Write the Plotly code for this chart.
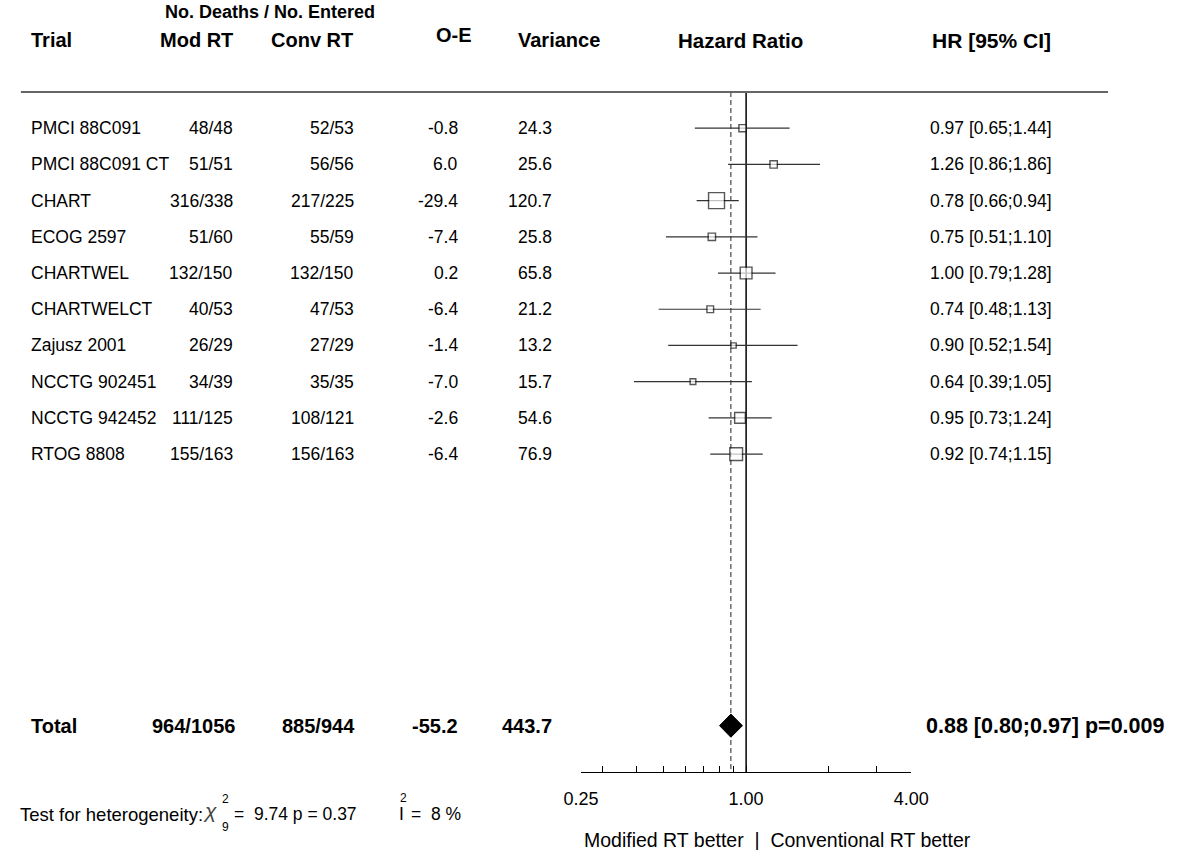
import plotly.graph_objects as go
import numpy as np

# ---------------- data ----------------
trials = ["PMCI 88C091", "PMCI 88C091 CT", "CHART", "ECOG 2597", "CHARTWEL",
          "CHARTWELCT", "Zajusz 2001", "NCCTG 902451", "NCCTG 942452", "RTOG 8808"]
mod_rt = ["48/48", "51/51", "316/338", "51/60", "132/150", "40/53", "26/29",
          "34/39", "111/125", "155/163"]
conv_rt = ["52/53", "56/56", "217/225", "55/59", "132/150", "47/53", "27/29",
           "35/35", "108/121", "156/163"]
o_minus_e = [-0.8, 6.0, -29.4, -7.4, 0.2, -6.4, -1.4, -7.0, -2.6, -6.4]
variance = [24.3, 25.6, 120.7, 25.8, 65.8, 21.2, 13.2, 15.7, 54.6, 76.9]
hr = [0.97, 1.26, 0.78, 0.75, 1.00, 0.74, 0.90, 0.64, 0.95, 0.92]
ci_low = [0.65, 0.86, 0.66, 0.51, 0.79, 0.48, 0.52, 0.39, 0.73, 0.74]
ci_high = [1.44, 1.86, 0.94, 1.10, 1.28, 1.13, 1.54, 1.05, 1.24, 1.15]

total_label = "Total"
total_mod = "964/1056"
total_conv = "885/944"
total_oe = -55.2
total_var = 443.7
total_hr = 0.88
total_low = 0.80
total_high = 0.97
total_p = "0.009"

het_chi2 = 9.74
het_df = 9
het_p = 0.37
het_i2 = 8

tick_vals = [0.25, 0.3, 0.4, 0.5, 0.6, 0.7, 0.8, 0.9, 1.0, 2.0, 3.0, 4.0]
tick_text = ["0.25", "", "", "", "", "", "", "", "1.00", "", "", "4.00"]

# ---------------- layout helpers ----------------
W, H = 1194, 850
FONT = "Liberation Sans, Arial, sans-serif"
FS = 17.5       # regular text
FB = 20         # bold text
rows = list(range(1, len(trials) + 1))
total_row = 17.5
y_top, y_bottom = 0, 18.78

def px(x):
    return max(x, 0) / W

def py(row):
    return 1 - (row - y_top) / (y_bottom - y_top)

annotations = []

def ann(text, xpix, row, anchor="left", bold=False, size=FS, color="black"):
    if bold:
        text = "<b>" + text + "</b>"
    annotations.append(dict(text=text, x=px(xpix), y=py(row), xref="paper", yref="paper",
                            xanchor=anchor, yanchor="middle", showarrow=False,
                            font=dict(family=FONT, size=size, color=color)))

# column positions (pixels)
X_TRIAL, X_MOD, X_CONV, X_OE, X_VAR, X_HR = 11, 224, 349, 456, 553, 938

# headers
ann("No. Deaths / No. Entered", 260, -2.2, "center", True, 18)
ann("Trial", X_TRIAL, -1.43, "left", True, FB)
ann("Mod RT", X_MOD, -1.43, "right", True, FB)
ann("Conv RT", 347, -1.43, "right", True, FB)
ann("O-E", 450, -1.57, "center", True, FB)
ann("Variance", 558, -1.43, "center", True, FB)
ann("Hazard Ratio", 745, -1.43, "center", True, 20.5)
ann("HR [95% CI]", 1004, -1.43, "center", True, 21)

# rows
for r, t, m, c, oe, v, h, lo, hi in zip(rows, trials, mod_rt, conv_rt, o_minus_e,
                                         variance, hr, ci_low, ci_high):
    ann(t, X_TRIAL, r, "left")
    ann(m, X_MOD, r, "right")
    ann(c, X_CONV, r, "right")
    ann(f"{oe:.1f}", X_OE, r, "right")
    ann(f"{v:.1f}", X_VAR, r, "right")
    ann(f"{h:.2f} [{lo:.2f};{hi:.2f}]", X_HR, r, "left")

# total row
ann(total_label, X_TRIAL, total_row, "left", True, FB)
ann(total_mod, X_MOD + 2, total_row, "right", True, FB)
ann(total_conv, X_CONV + 1, total_row, "right", True, FB)
ann(f"{total_oe:.1f}", X_OE, total_row, "right", True, FB)
ann(f"{total_var:.1f}", X_VAR, total_row, "right", True, FB)
ann(f"{total_hr:.2f} [{total_low:.2f};{total_high:.2f}] p={total_p}", X_HR - 4, total_row,
    "left", True, 21.5)

# heterogeneity line
het_row = 19.95
ann("Test for heterogeneity:", 0, het_row, "left", False, 18.5)
ann("<i>χ</i>", 189, het_row - 0.12, "left", False, 21, "#444")
ann("2", 208, het_row - 0.42, "left", False, 12)
ann(str(het_df), 208, het_row + 0.36, "left", False, 12)
ann(f"=  {het_chi2:.2f} p = {het_p:.2f}", 221, het_row, "left", False, FS)
ann("I", 391, het_row, "left", False, FS)
ann("2", 392, het_row - 0.45, "left", False, 12)
ann(f"=  {het_i2} %", 403, het_row, "left", False, FS)

# favours label
ann("Modified RT better  |  Conventional RT better", 783, 20.65, "center", False, 19.5)

# ---------------- figure ----------------
fig = go.Figure()

# reference lines (no effect and pooled estimate)
fig.add_trace(go.Scatter(x=[1.0, 1.0], y=[y_top, y_bottom], mode="lines",
                         line=dict(color="black", width=1.5), hoverinfo="skip",
                         showlegend=False, cliponaxis=False))
fig.add_trace(go.Scatter(x=[total_hr, total_hr], y=[y_top, y_bottom], mode="lines",
                         line=dict(color="#222", width=1, dash="5px,3px"),
                         hoverinfo="skip", showlegend=False, cliponaxis=False))

# CIs + squares
hr_a = np.array(hr)
fig.add_trace(go.Scatter(
    x=hr, y=rows, mode="markers",
    marker=dict(symbol="square", size=1.45 * np.sqrt(variance), color="white",
                line=dict(color="#111", width=1.4)),
    error_x=dict(type="data", symmetric=False,
                 array=list(np.array(ci_high) - hr_a),
                 arrayminus=list(hr_a - np.array(ci_low)),
                 color="#333", thickness=1.2, width=0),
    showlegend=False, hoverinfo="skip"))

# pooled diamond
dh = 0.32
fig.add_trace(go.Scatter(
    x=[total_low, total_hr, total_high, total_hr, total_low],
    y=[total_row, total_row - dh, total_row, total_row + dh, total_row],
    mode="lines", fill="toself", fillcolor="black",
    line=dict(color="black", width=1), showlegend=False, hoverinfo="skip"))

# header rule
shapes = [dict(type="line", xref="paper", yref="paper", x0=px(3), x1=px(1124),
               y0=py(y_top), y1=py(y_top), line=dict(color="#666", width=2))]

fig.update_layout(
    width=W, height=H,
    margin=dict(l=0, r=0, t=92, b=78, pad=0),
    plot_bgcolor="white", paper_bgcolor="white",
    font=dict(family=FONT, size=FS, color="black"),
    annotations=annotations, shapes=shapes,
    xaxis=dict(type="log", domain=[px(580.5), px(921)],
               range=[np.log10(0.25), np.log10(4)],
               showline=True, linecolor="black", linewidth=1,
               ticks="inside", ticklen=6, tickcolor="black", tickwidth=1,
               tickvals=tick_vals, ticktext=tick_text,
               tickfont=dict(family=FONT, size=18, color="black"),
               ticklabelstandoff=10,
               showgrid=False, zeroline=False, fixedrange=True),
    yaxis=dict(range=[y_bottom, y_top], visible=False, showgrid=False,
               zeroline=False, fixedrange=True),
    showlegend=False,
)

fig.write_html("out.html")
